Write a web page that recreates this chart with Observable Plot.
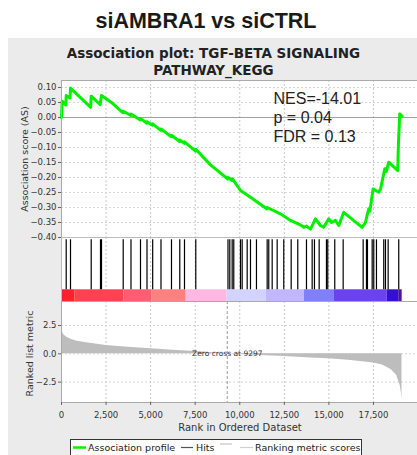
<!DOCTYPE html>
<html>
<head>
<meta charset="utf-8">
<script src="https://cdn.jsdelivr.net/npm/d3@7"></script>
<script src="https://cdn.jsdelivr.net/npm/@observablehq/plot@0.6"></script>
<style>
  html, body { margin: 0; padding: 0; background: #fff; }
  #root { position: relative; width: 417px; height: 455px; overflow: hidden; background: #fff; }
  #panel { position: absolute; left: 8px; top: 38px; width: 409px; height: 417px; background: #ebebeb; }
  .p { position: absolute; left: 0; }
  #overlay { position: absolute; left: 0; top: 0; pointer-events: none; }
</style>
</head>
<body>
<div id="root">
  <div id="panel"></div>
  <div id="p1" class="p" style="top:70px"></div>
  <div id="p2" class="p" style="top:237px"></div>
  <div id="p3" class="p" style="top:301px"></div>
  <svg id="overlay" width="417" height="455">
    <text x="206" y="28.3" text-anchor="middle" font-family="Liberation Sans, Arial, sans-serif" font-weight="bold" font-size="21.5" fill="#1a1a1a">siAMBRA1 vs siCTRL</text>
    <text x="213.5" y="58.3" text-anchor="middle" font-family="DejaVu Sans" font-weight="bold" font-size="13.5" fill="#222">Association plot: TGF-BETA SIGNALING</text>
    <text x="213.5" y="75" text-anchor="middle" font-family="DejaVu Sans" font-weight="bold" font-size="13.5" fill="#222">PATHWAY_KEGG</text>
    <text transform="translate(27.8,159) rotate(-90)" text-anchor="middle" font-family="DejaVu Sans" font-size="9.5" fill="#333">Association score (AS)</text>
    <text transform="translate(33,353.5) rotate(-90)" text-anchor="middle" font-family="DejaVu Sans" font-size="9.5" fill="#333">Ranked list metric</text>
    <text x="240" y="430.5" text-anchor="middle" font-family="DejaVu Sans" font-size="10" fill="#333">Rank in Ordered Dataset</text>
    <rect x="70.5" y="439.5" width="291" height="30" fill="#fff" stroke="#333" stroke-width="1"></rect>
    <line x1="73" x2="86" y1="447.5" y2="447.5" stroke="#00f000" stroke-width="2.5"></line>
    <text x="88" y="450.8" font-family="DejaVu Sans" font-size="9.5" fill="#222">Association profile</text>
    <line x1="181" x2="193" y1="447.5" y2="447.5" stroke="#555" stroke-width="1.2"></line>
    <text x="196" y="450.8" font-family="DejaVu Sans" font-size="9.5" fill="#222">Hits</text>
    <line x1="220" x2="232" y1="444" y2="444" stroke="#dcdcdc" stroke-width="2"></line>
    <line x1="240" x2="253" y1="447.5" y2="447.5" stroke="#d0d0d0" stroke-width="1.2"></line>
    <text x="255" y="450.8" font-family="DejaVu Sans" font-size="9.5" fill="#222">Ranking metric scores</text>
  </svg>
</div>
<script>
// ---------- data ----------
const xTicks = [0, 2500, 5000, 7500, 10000, 12500, 15000, 17500];
const asTicks = [0.10, 0.05, 0.00, -0.05, -0.10, -0.15, -0.20, -0.25, -0.30, -0.35, -0.40];
const metricTicks = [2.5, 0.0, -2.5];

const asRank = [0, 40, 240, 265, 480, 505, 1640, 1666, 2170, 2244, 2800, 3440, 3461, 3890, 3898,
  4420, 4431, 4790, 4796, 5105, 5115, 5570, 5581, 6160, 6170, 6625, 6635, 6890, 6899, 7525, 7533,
  8357, 9330, 9340, 9570, 9580, 10040, 10600, 11530, 11540, 12280, 12844, 13400, 13590, 13742,
  13966, 14246, 14527, 14700, 14994, 15150, 15368, 15555, 15835, 16863, 17050, 17237, 17300,
  17480, 17798, 17900, 18135, 18220, 18359, 18862, 18900, 18975, 19110];
const asScore = [0.000, 0.054, 0.042, 0.073, 0.065, 0.098, 0.034, 0.071, 0.043, 0.073, 0.050, 0.016, 0.021, 0.007, 0.012,
  -0.008, -0.003, -0.019, -0.014, -0.026, -0.021, -0.043, -0.038, -0.064, -0.059, -0.080, -0.075, -0.086, -0.081, -0.112, -0.106,
  -0.158, -0.205, -0.200, -0.210, -0.204, -0.243, -0.266, -0.305, -0.300, -0.321, -0.343, -0.358, -0.366, -0.362,
  -0.372, -0.338, -0.360, -0.366, -0.338, -0.350, -0.343, -0.360, -0.316, -0.366, -0.350, -0.304, -0.312,
  -0.238, -0.249, -0.238, -0.171, -0.180, -0.149, -0.177, -0.088, 0.012, 0.004];

const hitRanks = [264, 505, 1666, 2187, 2244, 3461, 3898, 4431, 4796, 5115, 5581, 6170, 6635, 6899, 7533,
  9339, 9440, 9574, 9664, 10040, 10135, 10416, 10601, 10937, 11537, 11627, 11818, 12098, 12468, 12884,
  13254, 13742, 14061, 14190, 14454, 14863, 14936, 15329, 15800, 16922, 17107, 17163, 17427, 17517,
  17668, 18077, 18173, 18324, 18918];

const metricRank = [0, 50, 150, 318, 600, 880, 1500, 2500, 3750, 5000, 6250, 7500, 8500, 9297, 10500,
  12500, 14000, 15000, 16250, 17500, 18000, 18250, 18500, 18800, 19000, 19060, 19100];
const metricValue = [2.2, 1.9, 1.65, 1.45, 1.25, 1.12, 0.95, 0.74, 0.58, 0.44, 0.32, 0.2, 0.1, 0.0, -0.1,
  -0.24, -0.36, -0.44, -0.6, -0.82, -0.98, -1.18, -1.4, -1.9, -2.8, -3.4, -4.1];
const zeroCross = 9297;

const segStart = [0, 746, 3494, 5087, 6994, 9294, 11498, 13630, 15312, 18268, 18918];
const segEnd   = [746, 3494, 5087, 6994, 9294, 11498, 13630, 15312, 18268, 18918, 19109];
const segColor = ["#ff1f30", "#ff4252", "#ff5e72", "#ff8080", "#ffb8e2", "#d4d2ff", "#c2b6ff",
  "#8080ff", "#6a42ee", "#3410d6", "#501098"];

const nesLines = ["NES=-14.01", "p = 0.04", "FDR = 0.13"];

// ---------- tables ----------
const asData = asRank.map((r, i) => ({rank: r, score: asScore[i]}));
const metricData = metricRank.map((r, i) => ({rank: r, value: metricValue[i]}));
const segData = segStart.map((s, i) => ({s, e: segEnd[i], c: segColor[i]}));

const xDomain = [0, 19970];
const baseStyle = {background: "transparent", overflow: "visible", fontFamily: "DejaVu Sans", fontSize: "8px", color: "#333"};
const gridStyle = {stroke: "#c8c8c8", strokeDasharray: "2,2", strokeWidth: 1};

// ---------- panel 1: association score ----------
const p1 = Plot.plot({
  width: 417, height: 175,
  marginLeft: 61, marginRight: 0, marginTop: 10, marginBottom: 8,
  style: baseStyle,
  x: {domain: xDomain, axis: null},
  y: {domain: [-0.40, 0.1233], axis: null},
  marks: [
    Plot.frame({fill: "white", stroke: null}),
    Plot.ruleX(xTicks.slice(1), gridStyle),
    Plot.ruleY(asTicks, {...gridStyle, stroke: "#d6d6d6"}),
    Plot.ruleY([0], {stroke: "#a0a0a0"}),
    Plot.line(asData, {x: "rank", y: "score", stroke: "#00f000", strokeWidth: 3, strokeLinejoin: "round"}),
    Plot.text([nesLines.join("\n")], {
      frameAnchor: "top-left", dx: 212, dy: 10.3, lineAnchor: "top", textAnchor: "start",
      fontSize: 16, fontFamily: "Liberation Sans, Arial, sans-serif", lineHeight: 1.19, fill: "#222"
    }),
    Plot.frame({stroke: "#aaa", insetRight: -3}),
    Plot.axisY({ticks: asTicks, tickFormat: d3.format(".2f"), tickSize: 3, tickPadding: 2, fontSize: 8.5, label: null, stroke: "#666"})
  ]
});
document.getElementById("p1").appendChild(p1);

// ---------- panel 2: hits + colour bar ----------
const p2 = Plot.plot({
  width: 417, height: 64,
  marginLeft: 61, marginRight: 0, marginTop: 0, marginBottom: 0,
  style: baseStyle,
  x: {domain: xDomain, axis: null},
  y: {domain: [0, 1], axis: null},
  color: {type: "identity"},
  marks: [
    Plot.frame({fill: "white", stroke: null}),
    Plot.ruleX(xTicks.slice(1), gridStyle),
    Plot.rect(segData, {x1: "s", x2: "e", y1: 0, y2: 0.183, fill: "c"}),
    Plot.ruleX(hitRanks, {x: d => d, y1: 0.183, y2: 0.964, stroke: "#000", strokeWidth: 1.2}),
    Plot.frame({stroke: "#bbb", insetRight: -3})
  ]
});
document.getElementById("p2").appendChild(p2);

// ---------- panel 3: ranked list metric ----------
const p3 = Plot.plot({
  width: 417, height: 135,
  marginLeft: 61, marginRight: 0, marginTop: 0, marginBottom: 34,
  style: baseStyle,
  x: {domain: xDomain, axis: null},
  y: {domain: [-4.3, 4.62], axis: null},
  marks: [
    Plot.frame({fill: "white", stroke: null}),
    Plot.ruleX(xTicks.slice(1), gridStyle),
    Plot.ruleY(metricTicks, {...gridStyle, stroke: "#d6d6d6"}),
    Plot.areaY(metricData, {x: "rank", y1: 0, y2: "value", fill: "#bdbdbd"}),
    Plot.ruleX([zeroCross], {stroke: "#999", strokeDasharray: "3,2"}),
    Plot.text([`Zero cross at ${zeroCross}`], {x: zeroCross, y: 0, fontSize: 7.5, lineAnchor: "middle", fill: "#333"}),
    Plot.frame({stroke: "#aaa", insetRight: -3}),
    Plot.axisY({ticks: metricTicks, tickFormat: d3.format(".1f"), tickSize: 3, tickPadding: 2, fontSize: 8.5, label: null, stroke: "#666"}),
    Plot.axisX({ticks: xTicks, tickFormat: d3.format(","), tickSize: 3, tickPadding: 6, fontSize: 8.5, label: null, stroke: "#666"})
  ]
});
document.getElementById("p3").appendChild(p3);
</script>
</body>
</html>
